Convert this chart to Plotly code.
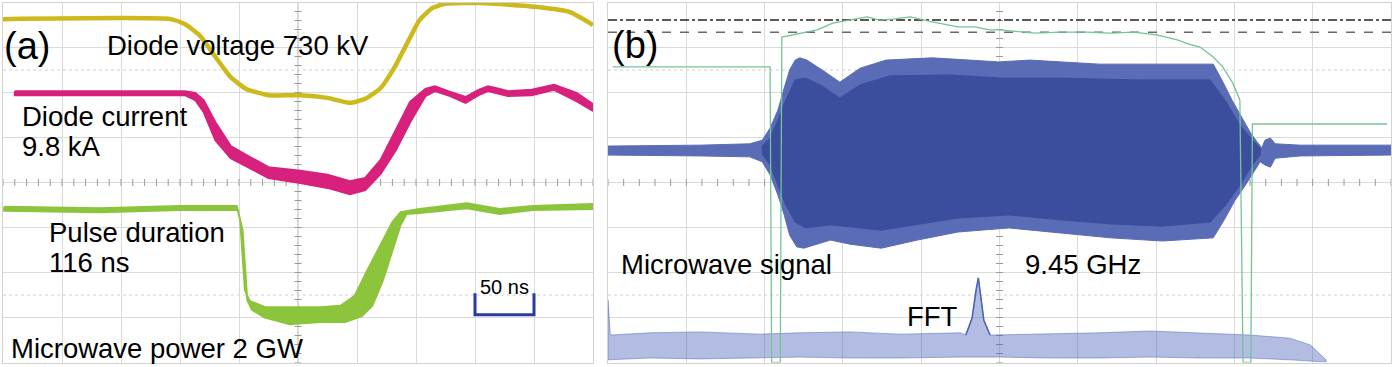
import numpy as np
import plotly.graph_objects as go

# ---------------- Panel (a): time in ns (50 ns/div), amplitude in screen divisions
volt_t = [0, 142, 154, 167, 180, 193, 206, 225, 252, 275, 294, 307, 320, 332, 343, 353, 364, 375, 405, 453, 480, 500]
volt_v = [3.63, 3.63, 3.52, 3.26, 2.79, 2.34, 2.08, 1.94, 1.94, 1.88, 1.77, 1.86, 2.10, 2.57, 3.12, 3.61, 3.88, 3.97, 3.99, 3.90, 3.79, 3.50]

curr_t = [10, 154, 163, 170, 180, 193, 209, 225, 252, 275, 294, 307, 320, 333, 345, 358, 366, 379, 392, 403, 411, 421, 428, 448, 467, 486, 500]
curr_hi = [2.03, 2.03, 1.99, 1.83, 1.34, 0.81, 0.57, 0.34, 0.26, 0.17, 0.03, 0.10, 0.50, 1.17, 1.79, 2.08, 2.14, 2.01, 1.90, 2.06, 2.14, 2.08, 2.03, 2.06, 2.17, 1.99, 1.74]
curr_lo = [1.94, 1.94, 1.83, 1.57, 0.94, 0.54, 0.32, 0.10, -0.01, -0.12, -0.26, -0.17, 0.19, 0.72, 1.34, 1.92, 2.03, 1.92, 1.77, 1.94, 2.03, 1.97, 1.92, 1.94, 2.06, 1.81, 1.59]

pow_early_t = [1, 82, 150, 198, 201, 205, 209, 222, 243, 269, 286, 298, 309, 320, 330, 337, 353, 393, 421, 449, 500]
pow_early_v = [-0.54, -0.57, -0.52, -0.52, -0.83, -2.39, -2.63, -2.77, -2.77, -2.77, -2.74, -2.52, -1.94, -1.39, -0.88, -0.66, -0.59, -0.46, -0.59, -0.52, -0.48]
pow_late_t = [1, 82, 150, 199, 203, 207, 211, 222, 243, 269, 290, 304, 313, 322, 330, 337, 342, 353, 393, 421, 449, 500]
pow_late_v = [-0.63, -0.66, -0.61, -0.61, -1.06, -2.61, -2.83, -3.00, -3.15, -3.10, -3.10, -2.97, -2.74, -2.17, -1.50, -0.94, -0.70, -0.68, -0.57, -0.70, -0.61, -0.59]

scale_start_ns = 400
scale_len_ns = 50
scale_base = -2.94
scale_tip = -2.46

# ---------------- Panel (b): time in divisions, amplitude in screen divisions
trig_x = [0.06, 2.07, 2.09, 2.20, 2.22, 2.45, 2.67, 2.87, 3.03, 3.22, 3.31, 3.47, 3.64, 3.86, 4.14, 4.47, 4.69, 4.87, 5.01,
          5.45, 5.77, 6.11, 6.41, 6.71, 7.01, 7.27, 7.41, 7.56, 7.73, 7.85, 7.98, 8.07, 8.11, 8.21, 8.23, 9.95]
trig_y = [2.57, 2.57, -4.0, -4.0, 3.23, 3.32, 3.39, 3.54, 3.59, 3.66, 3.68, 3.61, 3.63, 3.68, 3.57, 3.46, 3.46, 3.39, 3.39,
          3.32, 3.34, 3.34, 3.32, 3.34, 3.28, 3.17, 3.08, 3.01, 2.79, 2.57, 2.21, 1.83, -4.0, -4.0, 1.30, 1.30]

mw_up_x = [0.0, 1.18, 1.81, 1.97, 2.07, 2.17, 2.25, 2.32, 2.39, 2.45, 2.54, 2.64, 2.77, 2.96, 3.09, 3.22, 3.55, 4.14, 4.62,
           4.99, 5.39, 5.77, 6.28, 6.76, 7.31, 7.73, 7.84, 7.97, 8.10, 8.20, 8.29, 8.35, 8.39, 8.46, 8.52, 8.84, 10.0]
mw_up_y = [0.81, 0.83, 0.86, 0.94, 1.21, 1.61, 2.10, 2.50, 2.72, 2.77, 2.72, 2.61, 2.46, 2.23, 2.39, 2.54, 2.72, 2.77, 2.72,
           2.68, 2.72, 2.68, 2.63, 2.63, 2.63, 2.63, 2.28, 1.83, 1.43, 1.12, 0.90, 0.77, 0.94, 0.99, 0.86, 0.83, 0.83]
mw_lo_x = [0.0, 1.18, 1.81, 1.97, 2.07, 2.17, 2.25, 2.32, 2.41, 2.50, 2.64, 2.84, 3.09, 3.49, 3.95, 4.47, 5.12, 5.77, 6.42,
           7.08, 7.73, 7.87, 8.01, 8.14, 8.25, 8.33, 8.39, 8.46, 8.52, 8.84, 10.0]
mw_lo_y = [0.61, 0.59, 0.57, 0.46, 0.17, -0.28, -0.72, -1.17, -1.43, -1.46, -1.39, -1.28, -1.37, -1.46, -1.28, -1.10, -1.01,
           -1.12, -1.23, -1.30, -1.23, -0.83, -0.39, -0.06, 0.23, 0.46, 0.39, 0.34, 0.54, 0.59, 0.61]

core_up_x = [1.97, 2.07, 2.17, 2.27, 2.39, 2.52, 2.71, 2.96, 3.22, 3.60, 4.37, 5.01, 5.77, 6.76, 7.69, 7.88, 8.07, 8.23, 8.33]
core_up_y = [0.81, 0.99, 1.39, 1.83, 2.28, 2.32, 2.17, 1.88, 2.17, 2.37, 2.39, 2.32, 2.32, 2.28, 2.28, 1.83, 1.28, 0.94, 0.77]
core_lo_x = [1.97, 2.07, 2.17, 2.27, 2.39, 2.52, 2.84, 3.49, 3.95, 4.47, 5.12, 5.77, 6.42, 7.08, 7.69, 7.89, 8.07, 8.23, 8.33]
core_lo_y = [0.63, 0.39, -0.06, -0.50, -0.88, -1.01, -0.94, -1.06, -0.94, -0.79, -0.72, -0.83, -0.92, -0.97, -0.88, -0.50, -0.06, 0.39, 0.61]

fft_up_x = [0.0, 0.03, 0.54, 1.18, 1.94, 2.45, 3.09, 3.73, 4.50, 4.57, 4.65, 4.70, 4.73, 4.75, 4.80, 4.88, 5.65, 6.28, 6.92,
            7.56, 8.20, 8.71, 8.97, 9.17]
fft_up_y = [-2.61, -3.39, -3.34, -3.32, -3.37, -3.34, -3.32, -3.37, -3.34, -3.39, -3.01, -2.39, -2.12, -2.39, -3.06, -3.39,
            -3.37, -3.34, -3.30, -3.34, -3.39, -3.46, -3.61, -3.94]
fft_lo_x = [0.0, 0.54, 1.18, 1.94, 2.45, 3.09, 3.73, 4.50, 5.01, 5.65, 6.28, 6.92, 7.56, 8.20, 8.71, 9.17]
fft_lo_y = [-3.94, -3.90, -3.92, -3.90, -3.88, -3.90, -3.90, -3.88, -3.88, -3.90, -3.90, -3.88, -3.90, -3.90, -3.94, -3.99]
fft_peak_x = [4.57, 4.65, 4.70, 4.73, 4.75, 4.80, 4.88]
fft_peak_y = [-3.39, -3.01, -2.39, -2.12, -2.39, -3.06, -3.39]

ref_dashdot_y = 3.61
ref_dash_y = 3.34
marker_level_y = 1.15

# ---------------- colours
C_VOLT = "#CDB91C"
C_CURR = "#D7217C"
C_POW = "#8CC43C"
C_TRIG = "#74C497"
C_MW = "#3B4E9E"
C_MW_SPIKE = "#5A6CB6"
C_FFT = "#4862B8"
C_GRID = "#DADADA"
C_AXIS = "#B5B5B5"

W, H = 1400, 367
FONT = "Liberation Sans, Arial, sans-serif"

fig = go.Figure()


def poly(xu, yu, xl, yl):
    return list(xu) + list(xl)[::-1] + [xu[0]], list(yu) + list(yl)[::-1] + [yu[0]]


def center_ticks(xa, ya, xmax, xstep_minor, ystep_minor):
    xs = np.arange(0, xmax + 1e-9, xstep_minor)
    ys = np.arange(-4, 4 + 1e-9, ystep_minor)
    fig.add_trace(go.Scatter(x=xs, y=[0] * len(xs), mode="markers", xaxis=xa, yaxis=ya, hoverinfo="skip",
                             marker=dict(symbol="line-ns", size=5, line=dict(color="#9A9A9A", width=1))))
    fig.add_trace(go.Scatter(x=[xmax / 2] * len(ys), y=ys, mode="markers", xaxis=xa, yaxis=ya, hoverinfo="skip",
                             marker=dict(symbol="line-ew", size=5, line=dict(color="#9A9A9A", width=1))))


# center axis ticks
center_ticks("x", "y", 500, 10, 0.2)
center_ticks("x2", "y2", 10, 0.2, 0.2)

# ----- panel (a) traces
fig.add_trace(go.Scatter(x=volt_t, y=volt_v, mode="lines", line=dict(color=C_VOLT, width=4.5, shape="spline", smoothing=0.5),
                         xaxis="x", yaxis="y", hoverinfo="skip"))
px_, py_ = poly(curr_t, curr_hi, curr_t, curr_lo)
fig.add_trace(go.Scatter(x=px_, y=py_, mode="lines", fill="toself", fillcolor=C_CURR,
                         line=dict(color=C_CURR, width=2), xaxis="x", yaxis="y", hoverinfo="skip"))
px_, py_ = poly(pow_early_t, pow_early_v, pow_late_t, pow_late_v)
fig.add_trace(go.Scatter(x=px_, y=py_, mode="lines", fill="toself", fillcolor=C_POW,
                         line=dict(color=C_POW, width=2), xaxis="x", yaxis="y", hoverinfo="skip"))
x0, x1 = scale_start_ns, scale_start_ns + scale_len_ns
fig.add_trace(go.Scatter(x=[x0, x0, x1, x1], y=[scale_tip, scale_base, scale_base, scale_tip], mode="lines",
                         line=dict(color="#2B3B9A", width=3), xaxis="x", yaxis="y", hoverinfo="skip"))

# ----- panel (b) traces
fig.add_trace(go.Scatter(x=[0, 10.05], y=[ref_dashdot_y] * 2, mode="lines", line=dict(color="#222222", width=1.5, dash="dashdot"),
                         xaxis="x2", yaxis="y2", hoverinfo="skip", cliponaxis=False))
fig.add_trace(go.Scatter(x=[0, 10.05], y=[ref_dash_y] * 2, mode="lines", line=dict(color="#6A6A6A", width=1.5, dash="dash"),
                         xaxis="x2", yaxis="y2", hoverinfo="skip", cliponaxis=False))
px_, py_ = poly(fft_up_x, fft_up_y, fft_lo_x, fft_lo_y)
fig.add_trace(go.Scatter(x=px_, y=py_, mode="lines", fill="toself", fillcolor="rgba(72,98,184,0.42)",
                         line=dict(color="rgba(72,98,184,0.6)", width=0.8), xaxis="x2", yaxis="y2", hoverinfo="skip"))
fig.add_trace(go.Scatter(x=fft_peak_x, y=fft_peak_y, mode="lines", line=dict(color=C_FFT, width=1.5),
                         xaxis="x2", yaxis="y2", hoverinfo="skip"))
px_, py_ = poly(mw_up_x, mw_up_y, mw_lo_x, mw_lo_y)
fig.add_trace(go.Scatter(x=px_, y=py_, mode="lines", fill="toself", fillcolor=C_MW_SPIKE,
                         line=dict(color=C_MW_SPIKE, width=1), xaxis="x2", yaxis="y2", hoverinfo="skip"))
px_, py_ = poly(core_up_x, core_up_y, core_lo_x, core_lo_y)
fig.add_trace(go.Scatter(x=px_, y=py_, mode="lines", fill="toself", fillcolor=C_MW,
                         line=dict(color=C_MW, width=1), xaxis="x2", yaxis="y2", hoverinfo="skip"))
fig.add_trace(go.Scatter(x=trig_x, y=trig_y, mode="lines", line=dict(color=C_TRIG, width=1.3),
                         xaxis="x2", yaxis="y2", hoverinfo="skip"))
fig.add_trace(go.Scatter(x=[10.06], y=[marker_level_y], mode="markers", marker=dict(symbol="triangle-left", size=6, color=C_MW),
                         xaxis="x2", yaxis="y2", hoverinfo="skip", cliponaxis=False))

# ----- grid dotted half-lines
shapes = []
for xa, ya, xr in (("x", "y", 500), ("x2", "y2", 10)):
    for yv in (2.5, -2.5):
        shapes.append(dict(type="line", xref=xa, yref=ya, x0=0, x1=xr, y0=yv, y1=yv,
                           line=dict(color="#D0D0D0", width=1, dash="dot"), layer="below"))
    shapes.append(dict(type="line", xref=xa, yref=ya, x0=0, x1=xr, y0=0, y1=0,
                       line=dict(color=C_AXIS, width=1), layer="below"))
    shapes.append(dict(type="line", xref=xa, yref=ya, x0=xr / 2, x1=xr / 2, y0=-4, y1=4,
                       line=dict(color=C_AXIS, width=1), layer="below"))


def ann(text, px, py, size, xanchor="left"):
    return dict(text=text, x=px / W, y=1 - py / H, xref="paper", yref="paper", xanchor=xanchor, yanchor="middle",
                showarrow=False, font=dict(size=size, color="black", family=FONT), borderpad=0)


TS = 27.5
annotations = [
    ann("(a)", 3, 46, 38),
    ann("Diode voltage 730 kV", 106, 46, TS),
    ann("Diode current", 21, 117, TS),
    ann("9.8 kA", 21, 146, TS),
    ann("Pulse duration", 48, 232, TS),
    ann("116 ns", 48, 262, TS),
    ann("Microwave power 2 GW", 10, 348, TS),
    ann("50 ns", 504, 287, 20, "center"),
    ann("(b)", 611, 45, 38),
    ann("Microwave signal", 620, 264, TS),
    ann("9.45 GHz", 1024, 264, TS),
    ann("FFT", 906, 316, TS),
]

ydom = [(H - 362.5) / H, (H - 2.5) / H]
axis_common = dict(showgrid=True, gridcolor=C_GRID, gridwidth=1, zeroline=False, showticklabels=False,
                   ticks="", showline=True, linecolor="#D2D2D2", linewidth=1, mirror=True, fixedrange=True)

fig.update_layout(
    width=W, height=H, margin=dict(l=0, r=0, t=0, b=0),
    paper_bgcolor="white", plot_bgcolor="white", showlegend=False, hovermode=False,
    xaxis=dict(domain=[3 / W, 593 / W], range=[0, 500], dtick=50, anchor="y", **axis_common),
    yaxis=dict(domain=ydom, range=[-4, 4], dtick=1, anchor="x", **axis_common),
    xaxis2=dict(domain=[608 / W, 1391 / W], range=[0, 10], dtick=1, anchor="y2", **axis_common),
    yaxis2=dict(domain=ydom, range=[-4, 4], dtick=1, anchor="x2", **axis_common),
    shapes=shapes, annotations=annotations,
)

fig.write_html("out.html", config={"displayModeBar": False, "staticPlot": True},
               post_script="document.body.style.margin='0';document.body.style.overflow='hidden';")
